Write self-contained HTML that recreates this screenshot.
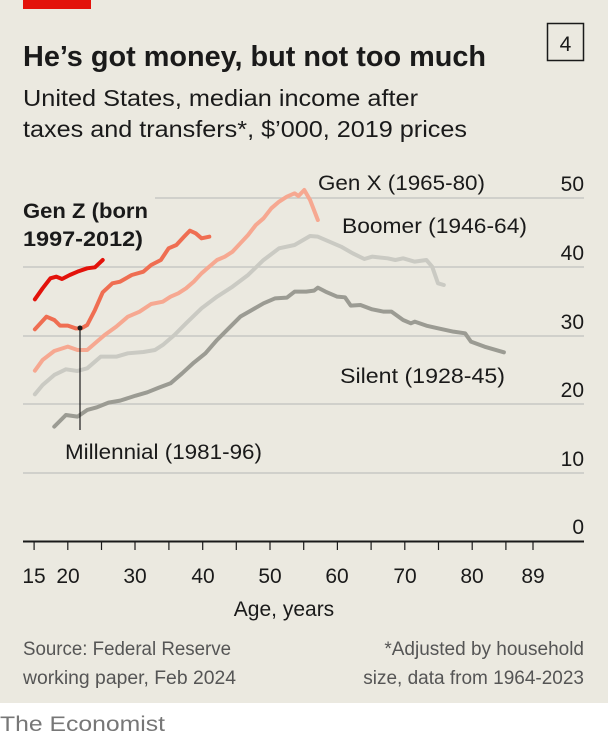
<!DOCTYPE html>
<html><head><meta charset="utf-8"><style>
html,body{margin:0;padding:0;background:#fff}
svg{display:block}
text{font-family:"Liberation Sans",sans-serif}
</style></head><body>
<svg width="608" height="739" viewBox="0 0 608 739" xmlns="http://www.w3.org/2000/svg">
<rect x="0" y="0" width="608" height="703" fill="#ebe9e0"/>
<rect x="23" y="0" width="68" height="9" fill="#e3120b"/>
<text x="23" y="66" font-size="29" font-weight="bold" fill="#1a1a1a" textLength="463" lengthAdjust="spacingAndGlyphs">He’s got money, but not too much</text>
<rect x="547.5" y="23.5" width="36" height="37" fill="none" stroke="#1a1a1a" stroke-width="1.5"/>
<text x="565.5" y="51" font-size="21" fill="#1a1a1a" text-anchor="middle">4</text>
<text x="23" y="106" font-size="23" fill="#1a1a1a" textLength="395" lengthAdjust="spacingAndGlyphs">United States, median income after</text>
<text x="23" y="137" font-size="23" fill="#1a1a1a" textLength="444" lengthAdjust="spacingAndGlyphs">taxes and transfers*, $’000, 2019 prices</text>
<g stroke="#c8c8c4" stroke-width="1.5">
<line x1="155" y1="198" x2="584" y2="198"/>
<line x1="23" y1="267" x2="584" y2="267"/>
<line x1="23" y1="336" x2="584" y2="336"/>
<line x1="23" y1="404" x2="584" y2="404"/>
<line x1="23" y1="473" x2="584" y2="473"/>
</g>
<line x1="23" y1="541.5" x2="584" y2="541.5" stroke="#1a1a1a" stroke-width="2"/>
<g stroke="#1a1a1a" stroke-width="1.2">
<line x1="34.1" y1="541" x2="34.1" y2="550"/><line x1="67.8" y1="541" x2="67.8" y2="550"/>
<line x1="101.5" y1="541" x2="101.5" y2="550"/><line x1="135" y1="541" x2="135" y2="550"/>
<line x1="168.9" y1="541" x2="168.9" y2="550"/><line x1="202.7" y1="541" x2="202.7" y2="550"/>
<line x1="236.3" y1="541" x2="236.3" y2="550"/><line x1="270" y1="541" x2="270" y2="550"/>
<line x1="303.7" y1="541" x2="303.7" y2="550"/><line x1="337.4" y1="541" x2="337.4" y2="550"/>
<line x1="371.1" y1="541" x2="371.1" y2="550"/><line x1="404.8" y1="541" x2="404.8" y2="550"/>
<line x1="438.5" y1="541" x2="438.5" y2="550"/><line x1="472.2" y1="541" x2="472.2" y2="550"/>
<line x1="505.9" y1="541" x2="505.9" y2="550"/><line x1="533" y1="541" x2="533" y2="550"/>
</g>
<g font-size="21" fill="#1a1a1a" text-anchor="middle">
<text x="34" y="583">15</text><text x="68" y="583">20</text><text x="135" y="583">30</text>
<text x="203" y="583">40</text><text x="270" y="583">50</text><text x="337" y="583">60</text>
<text x="405" y="583">70</text><text x="472" y="583">80</text><text x="533" y="583">89</text>
<text x="284" y="616">Age, years</text>
</g>
<g font-size="21" fill="#1a1a1a" text-anchor="end">
<text x="584" y="191">50</text><text x="584" y="260">40</text><text x="584" y="329">30</text>
<text x="584" y="397">20</text><text x="584" y="466">10</text><text x="584" y="534">0</text>
</g>
<g transform="translate(0,160) scale(0.3876,0.3333)" fill="none" stroke-linejoin="round" stroke-linecap="round">
<polyline vector-effect="non-scaling-stroke" stroke="#9b9b93" stroke-width="4" points="140,800 170,765 200,770 225,750 250,742 280,728 310,722 350,707 380,697 410,683 440,670 470,640 500,608 530,580 560,540 590,505 620,470 650,450 680,430 710,415 740,413 760,395 790,395 810,392 820,383 840,395 870,410 890,412 905,437 930,435 960,448 990,455 1010,455 1040,480 1060,490 1070,485 1100,497 1130,505 1170,515 1200,520 1215,545 1250,560 1300,577"/>
<polyline vector-effect="non-scaling-stroke" stroke="#cacac3" stroke-width="4" points="90,703 110,675 140,645 170,628 200,633 225,625 260,590 300,590 330,580 370,576 400,570 420,555 450,525 480,490 520,445 560,410 600,380 640,345 680,300 720,265 760,255 800,228 820,230 850,245 880,260 910,280 940,297 960,290 1000,295 1020,300 1040,295 1070,305 1100,300 1115,320 1130,370 1145,375"/>
<polyline vector-effect="non-scaling-stroke" stroke="#f6a891" stroke-width="4" points="90,632 110,600 140,573 175,560 200,570 225,570 250,545 270,525 300,500 330,470 360,455 390,432 420,425 440,410 460,400 480,385 500,365 520,340 540,320 560,300 580,290 600,275 620,250 640,225 660,195 680,175 700,145 720,125 740,110 760,100 770,108 785,90 800,120 820,180"/>
<polyline vector-effect="non-scaling-stroke" stroke="#ef6e52" stroke-width="4" points="90,508 120,470 140,480 155,497 175,497 195,505 210,505 225,495 245,450 265,397 290,370 310,365 340,345 370,335 390,315 415,300 435,265 455,255 475,230 490,212 505,220 520,235 540,230"/>
<polyline vector-effect="non-scaling-stroke" stroke="#e3120b" stroke-width="4" points="90,418 110,385 130,355 145,350 160,357 180,345 200,335 225,325 245,322 265,300"/>
</g>
<line x1="80" y1="328" x2="80" y2="430" stroke="#1a1a1a" stroke-width="1.2"/>
<circle cx="80" cy="328" r="2.5" fill="#1a1a1a"/>
<g font-size="21" fill="#1a1a1a">
<text x="318" y="190" textLength="167" lengthAdjust="spacingAndGlyphs">Gen X (1965-80)</text>
<text x="342" y="233" textLength="185" lengthAdjust="spacingAndGlyphs">Boomer (1946-64)</text>
<text x="340" y="383" textLength="165" lengthAdjust="spacingAndGlyphs">Silent (1928-45)</text>
<text x="65" y="459" textLength="197" lengthAdjust="spacingAndGlyphs">Millennial (1981-96)</text>
<text x="23" y="218" font-weight="bold" textLength="125" lengthAdjust="spacingAndGlyphs">Gen Z (born</text>
<text x="23" y="246" font-weight="bold" textLength="120" lengthAdjust="spacingAndGlyphs">1997-2012)</text>
</g>
<g font-size="19" fill="#555">
<text x="23" y="655" textLength="208" lengthAdjust="spacingAndGlyphs">Source: Federal Reserve</text>
<text x="23" y="684" textLength="213" lengthAdjust="spacingAndGlyphs">working paper, Feb 2024</text>
<text x="584" y="655" text-anchor="end">*Adjusted by household</text>
<text x="584" y="684" text-anchor="end">size, data from 1964-2023</text>
</g>
<text x="0" y="731" font-size="21" fill="#777" textLength="165" lengthAdjust="spacingAndGlyphs">The Economist</text>
</svg>
</body></html>
